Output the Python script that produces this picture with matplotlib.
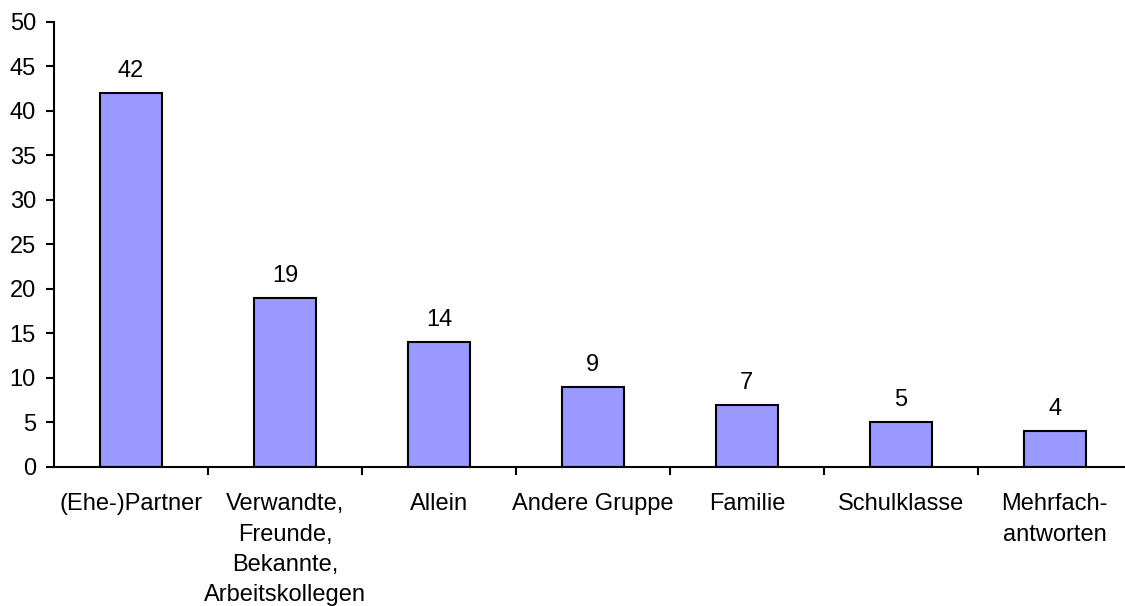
import numpy as np
import matplotlib.pyplot as plt

categories = ["(Ehe-)Partner", "Verwandte,\nFreunde,\nBekannte,\nArbeitskollegen",
              "Allein", "Andere Gruppe", "Familie", "Schulklasse", "Mehrfach-\nantworten"]
values = [42, 19, 14, 9, 7, 5, 4]
yticks = np.arange(0, 51, 5)

plt.rcParams['font.family'] = ['Liberation Sans', 'DejaVu Sans']
plt.rcParams['font.size'] = 17

fig = plt.figure(figsize=(11.25, 6.06), dpi=100)
ax = fig.add_axes([0.048, 0.2294, 0.958, 0.7343])

x = np.arange(len(categories))
bars = ax.bar(x, values, width=0.4, color='#9999ff', edgecolor='black', linewidth=1.5)

for xi, v in zip(x, values):
    ax.annotate(str(v), (xi, v), xytext=(0, 8), textcoords='offset points',
                ha='center', va='bottom', fontsize=17)

ax.set_xlim(-0.5, len(categories) - 0.5)
ax.set_ylim(0, 50)
ax.set_yticks(yticks)
ax.set_xticks(x)
ax.set_xticklabels(categories, ha='center', linespacing=1.49)
ax.set_xticks(np.arange(len(categories)) + 0.5, minor=True)
ax.tick_params(axis='x', which='major', length=0, pad=19)
ax.tick_params(axis='x', which='minor', length=6, width=1.5, direction='out')
ax.tick_params(axis='y', length=6, width=1.5, direction='out', pad=7)

for s in ['top', 'right']:
    ax.spines[s].set_visible(False)
for s in ['left', 'bottom']:
    ax.spines[s].set_linewidth(1.5)

fig.savefig('out.png', dpi=100)
